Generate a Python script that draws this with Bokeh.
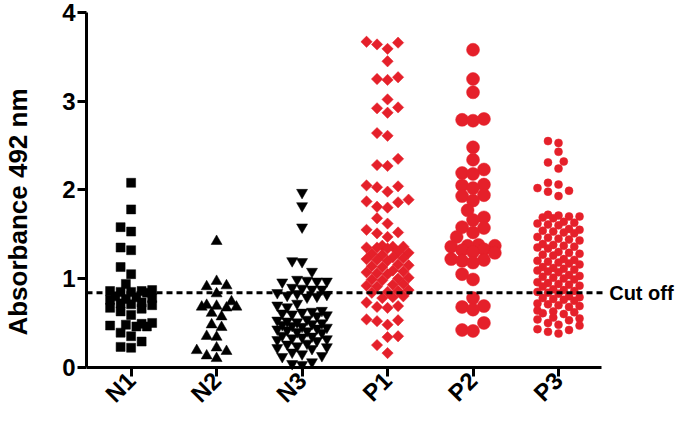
import math
from bokeh.plotting import figure
from bokeh.models import Range1d, FixedTicker, ColumnDataSource
from bokeh.core.properties import value
from bokeh.embed import file_html
from bokeh.resources import INLINE

# ---------------- data ----------------
categories = ["N1", "N2", "N3", "P1", "P2", "P3"]
cutoff = 0.84
cutoff_text = "Cut off"
y_ticks = [0, 1, 2, 3, 4]

n1 = [2.08, 1.78, 1.58, 1.53, 1.35, 1.32, 1.13, 1.05, 0.94, 0.87, 0.86, 0.86, 0.85, 0.85,
      0.84, 0.80, 0.79, 0.78, 0.77, 0.76, 0.73, 0.72, 0.71, 0.70, 0.67, 0.66, 0.63, 0.59,
      0.50, 0.49, 0.48, 0.47, 0.46, 0.46, 0.39, 0.35, 0.29, 0.23, 0.22]
n2 = [1.42, 0.97, 0.92, 0.91, 0.83, 0.74, 0.70, 0.69, 0.68, 0.68, 0.67, 0.61, 0.57, 0.48,
      0.45, 0.35, 0.34, 0.22, 0.19, 0.18, 0.13, 0.10]
n3 = [1.97, 1.82, 1.58, 1.20, 1.19, 1.08,
      0.99, 0.98, 0.97, 0.97, 0.96,
      0.90, 0.89, 0.88, 0.88,
      0.84, 0.83, 0.82, 0.81, 0.80, 0.79,
      0.72, 0.70, 0.68,
      0.64, 0.63, 0.62, 0.61, 0.60, 0.59, 0.58,
      0.54, 0.53, 0.52, 0.51, 0.50, 0.49, 0.48, 0.47,
      0.46, 0.45, 0.44, 0.43, 0.42, 0.41, 0.40, 0.39,
      0.36, 0.35, 0.34, 0.33, 0.32, 0.31, 0.30,
      0.27, 0.26, 0.24, 0.23, 0.22, 0.21,
      0.17, 0.15, 0.13, 0.12,
      0.06, 0.04, 0.03]
p1 = [3.67, 3.66, 3.64, 3.59, 3.45, 3.27, 3.25, 3.24, 3.02, 2.93, 2.92, 2.87, 2.64, 2.61,
      2.35, 2.28, 2.27, 2.05, 2.04, 2.03, 1.98, 1.89, 1.87, 1.86, 1.81, 1.80, 1.68, 1.62,
      1.55, 1.52, 1.51, 1.47,
      1.37, 1.36, 1.36, 1.35, 1.35, 1.34,
      1.30, 1.29, 1.28, 1.27,
      1.24, 1.23, 1.22, 1.21, 1.20,
      1.16, 1.15, 1.14, 1.13,
      1.09, 1.08, 1.07, 1.06, 1.05,
      1.01, 1.00, 0.99, 0.98,
      0.94, 0.93, 0.92, 0.91,
      0.87, 0.86, 0.85, 0.84,
      0.80, 0.79, 0.78,
      0.73, 0.69, 0.68, 0.67, 0.54, 0.53, 0.52, 0.48, 0.35, 0.34, 0.25, 0.16]
p2 = [3.58, 3.25, 3.10, 2.80, 2.79, 2.78, 2.48, 2.34, 2.23, 2.19, 2.18, 2.06, 2.05, 2.02,
      1.94, 1.93, 1.88, 1.77, 1.69, 1.66, 1.58, 1.57, 1.52, 1.47, 1.38, 1.37, 1.37, 1.36,
      1.33, 1.32, 1.30, 1.29, 1.22, 1.21, 1.20, 1.18, 1.05, 0.99, 0.78, 0.69, 0.68, 0.65,
      0.50, 0.42, 0.41]
p3 = [2.55, 2.53, 2.43, 2.32, 2.31, 2.24, 2.08, 2.06, 2.02, 1.99, 1.98, 1.93,
      1.72, 1.71, 1.70, 1.70, 1.69, 1.68,
      1.64, 1.63, 1.62, 1.61, 1.60,
      1.56, 1.55, 1.54, 1.53, 1.52, 1.51,
      1.47, 1.46, 1.45, 1.44, 1.43,
      1.39, 1.38, 1.37, 1.36, 1.35, 1.34,
      1.30, 1.29, 1.28, 1.27, 1.26,
      1.22, 1.21, 1.20, 1.19, 1.18, 1.17, 1.16,
      1.13, 1.12, 1.11, 1.10, 1.09, 1.08, 1.07,
      1.04, 1.03, 1.02, 1.01, 1.00, 0.99,
      0.96, 0.95, 0.94, 0.93, 0.92, 0.91,
      0.88, 0.87, 0.86, 0.85, 0.84, 0.83,
      0.80, 0.79, 0.78, 0.77, 0.76, 0.75,
      0.72, 0.71, 0.70, 0.69, 0.68,
      0.64, 0.63, 0.62, 0.61, 0.60,
      0.56, 0.55, 0.54, 0.53,
      0.50, 0.48, 0.47,
      0.43, 0.42, 0.40, 0.38]

series = [n1, n2, n3, p1, p2, p3]

# ---------------- layout ----------------
W, H = 678, 411
B_LEFT, B_TOP = 81, 12
FRAME_W = W - B_LEFT
PX = 86.2                      # px per category
PY = 88.0                      # px per absorbance unit (approx.)
X0 = 0.478                     # left edge of frame (y axis)
XA = 6.5                       # right end of x axis line
X1 = X0 + FRAME_W / PX         # frame extends to the right for "Cut off"
Y1 = 4.0
Y0 = -0.4986                   # frame extends below 0 for category labels

RED = "#E5202A"
styles = [
    dict(marker="square", size=9, color="black", angle=0.0, d=10.0, h=5.3, w=22),
    dict(marker="triangle", size=11, color="black", angle=0.0, d=10.0, h=5.0, w=21),
    dict(marker="inverted_triangle", size=11, color="black", angle=0.0, d=9.5, h=5.0, w=25),
    dict(marker="square", size=8, color=RED, angle=math.pi / 4, d=10.0, h=5.3, w=22),
    dict(marker="circle", size=13, color=RED, angle=0.0, d=10.5, h=5.5, w=24),
    dict(marker="circle", size=8, color=RED, angle=0.0, d=8.2, h=5.3, w=23),
]


def swarm(vals, d_px, h_px, max_px):
    """Beeswarm offsets (in x data units) limited to +/- max_px pixels."""
    n_side = int(max_px // h_px)
    cands = [0.0]
    for m in range(1, n_side + 1):
        cands += [m * h_px, -m * h_px] if m % 2 else [-m * h_px, m * h_px]
    order = sorted(range(len(vals)), key=lambda i: vals[i])
    placed = []
    offs = [0.0] * len(vals)
    for i in order:
        y = vals[i] * PY
        best, best_d = None, -1.0
        for c in cands:
            md = min([math.hypot(c - px, y - py) for px, py in placed] or [1e9])
            if md >= d_px:
                best = c
                break
            if md > best_d + 1e-9:
                best, best_d = c, md
        placed.append((best, y))
        offs[i] = best / PX
    return offs


p = figure(width=W, height=H, x_range=Range1d(X0, X1), y_range=Range1d(Y0, Y1),
           output_backend="svg", toolbar_location=None,
           min_border_left=B_LEFT, min_border_right=0,
           min_border_top=B_TOP, min_border_bottom=0)
p.outline_line_color = None
p.grid.visible = False
p.background_fill_color = "white"

for k, (vals, st) in enumerate(zip(series, styles)):
    offs = swarm(vals, st["d"], st["h"], st["w"])
    src = ColumnDataSource(dict(x=[k + 1 + o for o in offs], y=vals))
    p.scatter("x", "y", source=src, marker=st["marker"], size=st["size"],
              fill_color=st["color"], line_color=st["color"], line_width=0.5,
              angle=st["angle"])

# cut-off line across the axis extent, and its text just past the axis end
p.segment(x0=[X0], x1=[XA + 2 / PX], y0=[cutoff], y1=[cutoff], line_color="black",
          line_width=3, line_dash="6 4")
p.text(x=[XA + 8 / PX], y=[cutoff], text=[cutoff_text], text_font=value("Liberation Sans"),
       text_font_style="bold", text_font_size="20px", text_baseline="middle",
       text_align="left", text_color="black")

for ax in (p.xaxis[0], p.yaxis[0]):
    ax.axis_line_width = 3
    ax.major_tick_line_width = 3
    ax.major_tick_in = 0
    ax.major_tick_out = 9
    ax.minor_tick_line_color = None
    ax.major_label_text_font = "Liberation Sans"
    ax.major_label_text_font_style = "bold"
    ax.major_label_text_font_size = "24px"
    ax.major_label_text_color = "black"
    ax.axis_line_color = "black"
    ax.major_tick_line_color = "black"

yax = p.yaxis[0]
yax.ticker = FixedTicker(ticks=y_ticks)
yax.bounds = (y_ticks[0], y_ticks[-1])
yax.major_label_standoff = 2
yax.axis_label = "Absorbance 492 nm"
yax.axis_label_text_font = "Liberation Sans"
yax.axis_label_text_font_style = "bold"
yax.axis_label_text_font_size = "26px"
yax.axis_label_text_color = "black"
yax.axis_label_standoff = 26

xax = p.xaxis[0]
xax.fixed_location = y_ticks[0]
xax.bounds = (X0, XA)
xax.ticker = FixedTicker(ticks=list(range(1, len(categories) + 1)))
xax.major_label_overrides = {i + 1: c for i, c in enumerate(categories)}
xax.major_label_orientation = math.pi / 4
xax.major_label_text_font_size = "24px"
xax.major_label_standoff = 0

open("out.html", "w").write(file_html(p, INLINE))
